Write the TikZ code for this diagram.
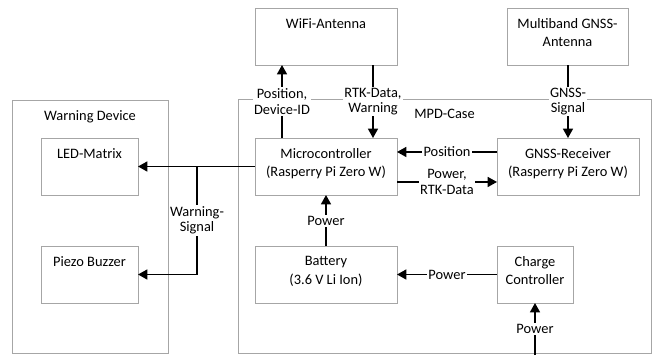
\documentclass[tikz,border=0pt]{standalone}
\usepackage{fontspec}
\setmainfont{Carlito}
\usetikzlibrary{arrows.meta}
\definecolor{boxgray}{HTML}{A6A6A6}
\begin{document}
\begin{tikzpicture}[x=0.75pt,y=-0.75pt,
  font=\fontsize{10.8}{13.9}\selectfont,
  box/.style={draw=boxgray,line width=0.6pt,inner sep=0pt,outer sep=0pt,minimum width=#1},
  box/.default=106.5pt,
  std/.style={box,minimum height=42.75pt},
  ttl/.style={anchor=north,align=center,inner sep=0pt,yshift=-7.5pt},
  arr/.style={draw=black,line width=1.1pt,-{Triangle[length=7pt,width=7.5pt]}},
  elbl/.style={fill=white,inner sep=1pt,align=center,font=\fontsize{10.8}{11.6}\selectfont}
]
\useasboundingbox (0,0) rectangle (658,355);
% containers
\node[box=117pt,minimum height=189.75pt] (wd) at (90,226.5) {};
\node[ttl] (wdt) at (wd.north) {Warning Device};
\node[box=309.75pt,minimum height=190.5pt] (mpd) at (444.5,226) {};
\node[ttl] (mpdt) at (mpd.north) {MPD-Case};
% components
\node[std,box=72.75pt] (led) at (89.5,166.5) {};
\node[ttl] (ledt) at (led.north) {LED-Matrix};
\node[std,box=72.75pt] (piezo) at (89.5,274.5) {};
\node[ttl] (piezot) at (piezo.north) {Piezo Buzzer};
\node[std] (wifi) at (326,36.5) {};
\node[ttl] (wifit) at (wifi.north) {WiFi-Antenna};
\node[std,box=90.75pt] (gant) at (567.5,36.5) {};
\node[ttl] (gantt) at (gant.north) {Multiband GNSS-\\Antenna};
\node[std] (mcu) at (326,166.5) {};
\node[ttl] (mcut) at (mcu.north) {Microcontroller\\(Rasperry Pi Zero W)};
\node[std] (rx) at (568,166.5) {};
\node[ttl] (rxt) at (rx.north) {GNSS-Receiver\\(Rasperry Pi Zero W)};
\node[std] (bat) at (326,274.5) {};
\node[ttl] (batt) at (bat.north) {Battery\\(3.6 V Li Ion)};
\node[std,box=57pt] (chg) at (535,274.5) {};
\node[ttl] (chgt) at (chg.north) {Charge\\Controller};
% connectors
\draw[arr] (mcu.west) -- (led.east);
\coordinate (br) at (197,166.5);
\draw[arr] (br) -- node[elbl]{Warning-\\Signal} (br |- piezo.east) -- (piezo.east);
\draw[arr] ([xshift=-33pt]mcu.north) -- node[elbl]{Position,\\Device-ID} ([xshift=-33pt]wifi.south);
\draw[arr] ([xshift=35.25pt]wifi.south) -- node[elbl]{RTK-Data,\\Warning} ([xshift=35.25pt]mcu.north);
\draw[arr] (gant.south -| rx.north) -- node[elbl]{GNSS-\\Signal} (rx.north);
\draw[arr] ([yshift=10.9pt]rx.west) -- node[elbl]{Position} ([yshift=10.9pt]mcu.east);
\draw[arr] ([yshift=-11.6pt]mcu.east) -- node[elbl]{Power,\\RTK-Data} ([yshift=-11.6pt]rx.west);
\draw[arr] (bat.north) -- node[elbl]{Power} (mcu.south);
\draw[arr] (chg.west) -- node[elbl]{Power} (bat.east);
\coordinate (pin) at (535,355);
\draw[arr] (pin) -- node[elbl]{Power} (chg.south);
\end{tikzpicture}
\end{document}
